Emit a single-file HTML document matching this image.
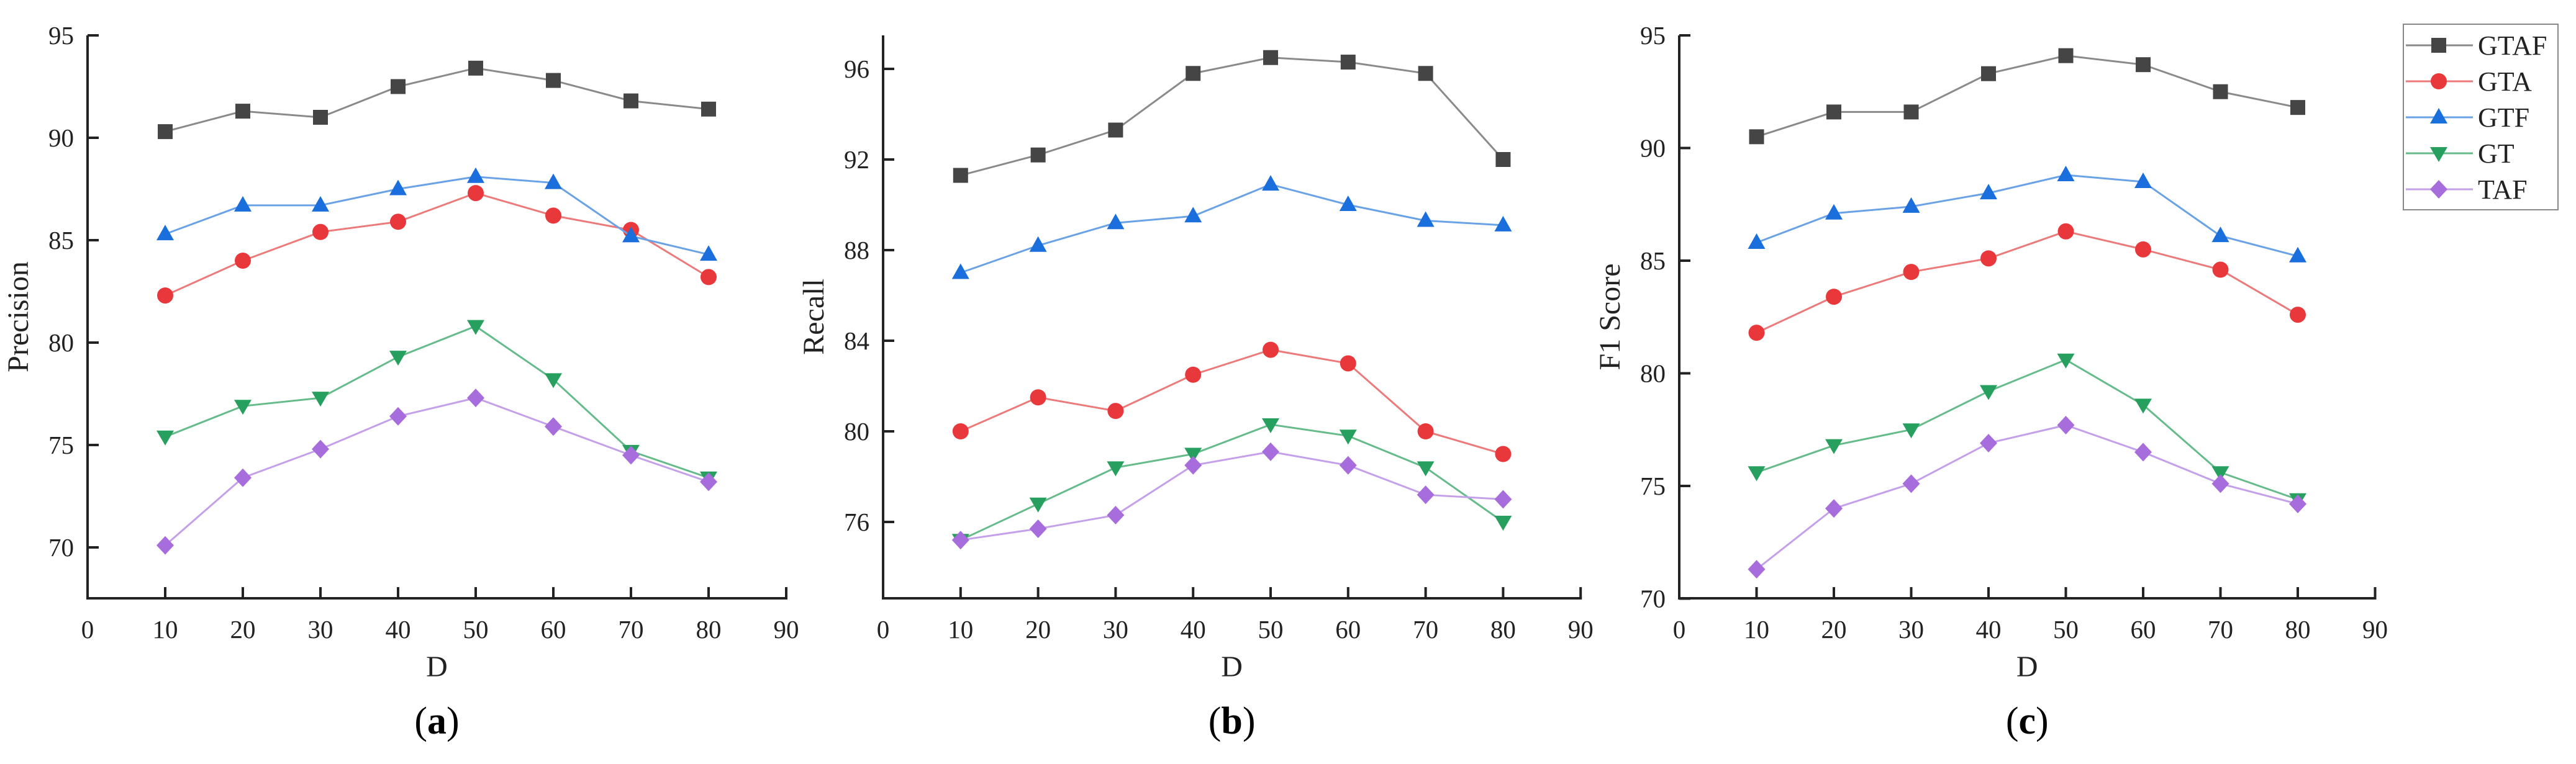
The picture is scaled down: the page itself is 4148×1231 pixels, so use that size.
<!DOCTYPE html>
<html><head><meta charset="utf-8"><style>
html,body{margin:0;padding:0;background:#fff;}
svg{display:block;font-family:"Liberation Serif",serif;}
</style></head><body>
<svg id="fig" width="4148" height="1231" viewBox="0 0 4148 1231" xmlns="http://www.w3.org/2000/svg"></svg>
<script>
const categories = [10, 20, 30, 40, 50, 60, 70, 80];
const seriesNames = ["GTAF", "GTA", "GTF", "GT", "TAF"];
// Panel (a) Precision
const precGTAF = [90.3, 91.3, 91.0, 92.5, 93.4, 92.8, 91.8, 91.4];
const precGTA  = [82.3, 84.0, 85.4, 85.9, 87.3, 86.2, 85.5, 83.2];
const precGTF  = [85.3, 86.7, 86.7, 87.5, 88.1, 87.8, 85.2, 84.3];
const precGT   = [75.4, 76.9, 77.3, 79.3, 80.8, 78.2, 74.7, 73.4];
const precTAF  = [70.1, 73.4, 74.8, 76.4, 77.3, 75.9, 74.5, 73.2];
// Panel (b) Recall
const recGTAF = [91.3, 92.2, 93.3, 95.8, 96.5, 96.3, 95.8, 92.0];
const recGTA  = [80.0, 81.5, 80.9, 82.5, 83.6, 83.0, 80.0, 79.0];
const recGTF  = [87.0, 88.2, 89.2, 89.5, 90.9, 90.0, 89.3, 89.1];
const recGT   = [75.2, 76.8, 78.4, 79.0, 80.3, 79.8, 78.4, 76.0];
const recTAF  = [75.2, 75.7, 76.3, 78.5, 79.1, 78.5, 77.2, 77.0];
// Panel (c) F1 Score
const f1GTAF = [90.5, 91.6, 91.6, 93.3, 94.1, 93.7, 92.5, 91.8];
const f1GTA  = [81.8, 83.4, 84.5, 85.1, 86.3, 85.5, 84.6, 82.6];
const f1GTF  = [85.8, 87.1, 87.4, 88.0, 88.8, 88.5, 86.1, 85.2];
const f1GT   = [75.6, 76.8, 77.5, 79.2, 80.6, 78.6, 75.6, 74.4];
const f1TAF  = [71.3, 74.0, 75.1, 76.9, 77.7, 76.5, 75.1, 74.2];
const xTicks = [0, 10, 20, 30, 40, 50, 60, 70, 80, 90];
const yTicksA = [70, 75, 80, 85, 90, 95];
const yTicksB = [76, 80, 84, 88, 92, 96];
const yTicksC = [70, 75, 80, 85, 90, 95];

const NS = "http://www.w3.org/2000/svg";
const svg = document.getElementById("fig");
const lineCol = ["#8a8a8a", "#ec7a7a", "#6aa2e6", "#66bb8a", "#c4a0ea"];
const markCol = ["#454545", "#e8383b", "#1a6fdc", "#27a05f", "#a86ddc"];
function mk(tag, attrs, parent) {
  const e = document.createElementNS(NS, tag);
  for (const k in attrs) e.setAttribute(k, attrs[k]);
  (parent || svg).appendChild(e);
  return e;
}
function marker(g, kind, x, y, i) {
  let m;
  const c = markCol[i];
  if (kind === 0) m = mk("rect", {x: x - 12, y: y - 12, width: 24, height: 24, fill: c}, g);
  else if (kind === 1) m = mk("circle", {cx: x, cy: y, r: 13, fill: c}, g);
  else if (kind === 2) m = mk("polygon", {points: `${x},${y-15} ${x+14},${y+10} ${x-14},${y+10}`, fill: c}, g);
  else if (kind === 3) m = mk("polygon", {points: `${x},${y+14} ${x+14},${y-10} ${x-14},${y-10}`, fill: c}, g);
  else m = mk("polygon", {points: `${x},${y-15} ${x+14},${y} ${x},${y+15} ${x-14},${y}`, fill: c}, g);
  return m;
}
function panel(cfg) {
  const g = mk("g", {});
  
  
  const X = v => cfg.x0 + v * cfg.xs;
  const Y = v => cfg.yRef - (v - cfg.vRef) * cfg.ys;
  const axBottom = 964;
  const axis = mk("g", {}, g);
  
  
  mk("line", {x1: cfg.x0, y1: cfg.yTop, x2: cfg.x0, y2: axBottom + 2, stroke: "#222", "stroke-width": 4}, axis);
  mk("line", {x1: cfg.x0 - 2, y1: axBottom, x2: X(90) + 2, y2: axBottom, stroke: "#222", "stroke-width": 4}, axis);
  xTicks.forEach(t => {
    mk("line", {x1: X(t), y1: axBottom, x2: X(t), y2: axBottom - 18, stroke: "#222", "stroke-width": 4}, axis);
    const tx = mk("text", {x: X(t), y: axBottom + 64, "font-size": 41, "text-anchor": "middle", fill: "#222"}, axis);
    tx.textContent = t;
    
    
  });
  cfg.yTicks.forEach(t => {
    mk("line", {x1: cfg.x0, y1: Y(t), x2: cfg.x0 + 18, y2: Y(t), stroke: "#222", "stroke-width": 4}, axis);
    const tx = mk("text", {x: cfg.x0 - 22, y: Y(t) + 14, "font-size": 41, "text-anchor": "end", fill: "#222"}, axis);
    tx.textContent = t;
    
    
  });
  const yl = mk("text", {x: 0, y: 0, "font-size": 48, "text-anchor": "middle", fill: "#222",
    transform: `translate(${cfg.x0 - 96},${(cfg.yTop + axBottom) / 2}) rotate(-90)`}, g);
  yl.textContent = cfg.ylabel;
  
  
  const xl = mk("text", {x: X(45), y: 1090, "font-size": 48, "text-anchor": "middle", fill: "#222"}, g);
  xl.textContent = "D";
  
  
  const cap = mk("text", {x: X(45), y: 1182, "font-size": 62, "text-anchor": "middle", fill: "#000"}, g);
  cap.innerHTML = '(<tspan font-weight="bold">' + cfg.cap + '</tspan>)';
  
  
  cfg.series.forEach((vals, i) => {
    const sg = mk("g", {}, g);
    
    
    const pts = vals.map((v, j) => X(categories[j]) + "," + Y(v)).join(" ");
    mk("polyline", {points: pts, fill: "none", stroke: lineCol[i], "stroke-width": 3}, sg);
    vals.forEach((v, j) => {
      const m = marker(sg, i, X(categories[j]), Y(v), i);
      
      
    });
  });
}
panel({name: "precision-chart", x0: 141, xs: 12.5, yRef: 57, vRef: 95, ys: 33, yTop: 57, yTicks: yTicksA, ylabel: "Precision", cap: "a",
  series: [precGTAF, precGTA, precGTF, precGT, precTAF]});
panel({name: "recall-chart", x0: 1422, xs: 12.48, yRef: 111, vRef: 96, ys: 36.5, yTop: 57, yTicks: yTicksB, ylabel: "Recall", cap: "b",
  series: [recGTAF, recGTA, recGTF, recGT, recTAF]});
panel({name: "f1-score-chart", x0: 2704, xs: 12.45, yRef: 57, vRef: 95, ys: 36.3, yTop: 57, yTicks: yTicksC, ylabel: "F1 Score", cap: "c",
  series: [f1GTAF, f1GTA, f1GTF, f1GT, f1TAF]});

// legend
const lg = mk("g", {});


mk("rect", {x: 3870, y: 39, width: 249, height: 299, fill: "#fff", stroke: "#888", "stroke-width": 2}, lg);
seriesNames.forEach((n, i) => {
  const y = 73 + i * 58;
  const e = mk("g", {}, lg);
  
  
  mk("line", {x1: 3874, y1: y, x2: 3982, y2: y, stroke: lineCol[i], "stroke-width": 3}, e);
  marker(e, i, 3927, y, i);
  const t = mk("text", {x: 3990, y: y + 15, "font-size": 44, fill: "#222"}, e);
  t.textContent = n;
});
</script>
</body></html>
